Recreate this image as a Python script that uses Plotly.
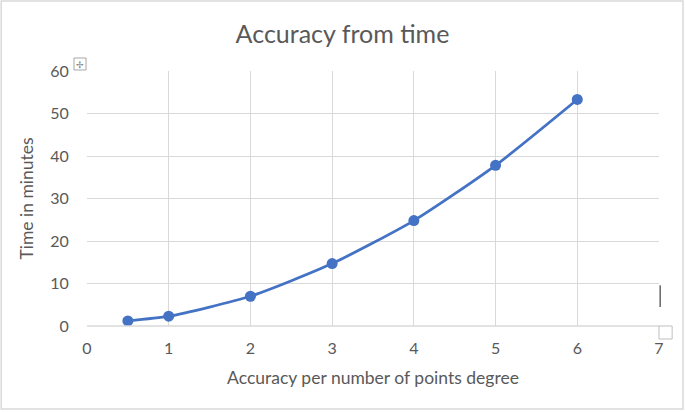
import plotly.graph_objects as go

# Accuracy (points degree) vs time in minutes
accuracy = [0.5, 1, 2, 3, 4, 5, 6]
minutes = [1.2, 2.3, 7.0, 14.7, 24.8, 37.8, 53.3]
x_ticks = [0, 1, 2, 3, 4, 5, 6, 7]
y_ticks = [0, 10, 20, 30, 40, 50, 60]

blue = "#4472C4"
grey_text = "#595959"
grid = "#d9d9d9"

fig = go.Figure()
fig.add_trace(go.Scatter(
    x=accuracy, y=minutes, mode="lines+markers",
    line=dict(color=blue, width=2.8, shape="spline", smoothing=0.6),
    marker=dict(color=blue, size=11),
    showlegend=False,
))

fig.update_layout(
    width=685, height=412,
    margin=dict(l=87, r=26, t=71, b=86),
    paper_bgcolor="white", plot_bgcolor="white",
    font=dict(family="Lato, Open Sans, sans-serif", color=grey_text, size=16),
    title=dict(text="Accuracy from time", x=0.5, xanchor="center", y=0.917, yanchor="middle",
               font=dict(size=25, color=grey_text)),
    xaxis=dict(range=[0, 7], tickvals=x_ticks, showgrid=True, gridcolor=grid, gridwidth=1,
               zeroline=False, showline=False, ticks="outside", ticklen=8, tickcolor="white",
               title=dict(text="Accuracy per number of points degree", font=dict(size=17.5), standoff=15)),
    yaxis=dict(range=[0, 60], tickvals=y_ticks, showgrid=True, gridcolor=grid, gridwidth=1,
               zeroline=False, showline=False, ticks="outside", ticklen=14, tickcolor="white",
               title=dict(text="Time in minutes", font=dict(size=17.5), standoff=12)),
    shapes=[
        # outer chart border
        dict(type="rect", xref="paper", yref="paper", x0=-0.150, x1=1.042, y0=-0.325, y1=1.275,
             line=dict(color=grid, width=1.5)),
        # plot area outline on the bottom axis
        dict(type="line", xref="paper", yref="paper", x0=0, x1=1, y0=0, y1=0,
             line=dict(color=grid, width=1.5)),
        # selection handles
        dict(type="rect", xref="paper", yref="paper", x0=-0.0227, x1=-0.0017, y0=1.004, y1=1.051,
             line=dict(color="#a6a6a6", width=1)),
        dict(type="rect", xref="paper", yref="paper", x0=1.0, x1=1.023, y0=-0.051, y1=0,
             line=dict(color="#bfbfbf", width=1)),
        dict(type="line", xref="paper", yref="paper", x0=1.002, x1=1.002, y0=0.075, y1=0.16,
             line=dict(color="#404040", width=1.2)),
    ],
    annotations=[
        dict(text="✢", xref="paper", yref="paper", x=-0.012, y=1.027, showarrow=False,
             xanchor="center", yanchor="middle", font=dict(size=9, color="#7f7f7f")),
    ],
)

fig.write_html("out.html", config={"displayModeBar": False},
               post_script="document.body.style.margin='0';")
